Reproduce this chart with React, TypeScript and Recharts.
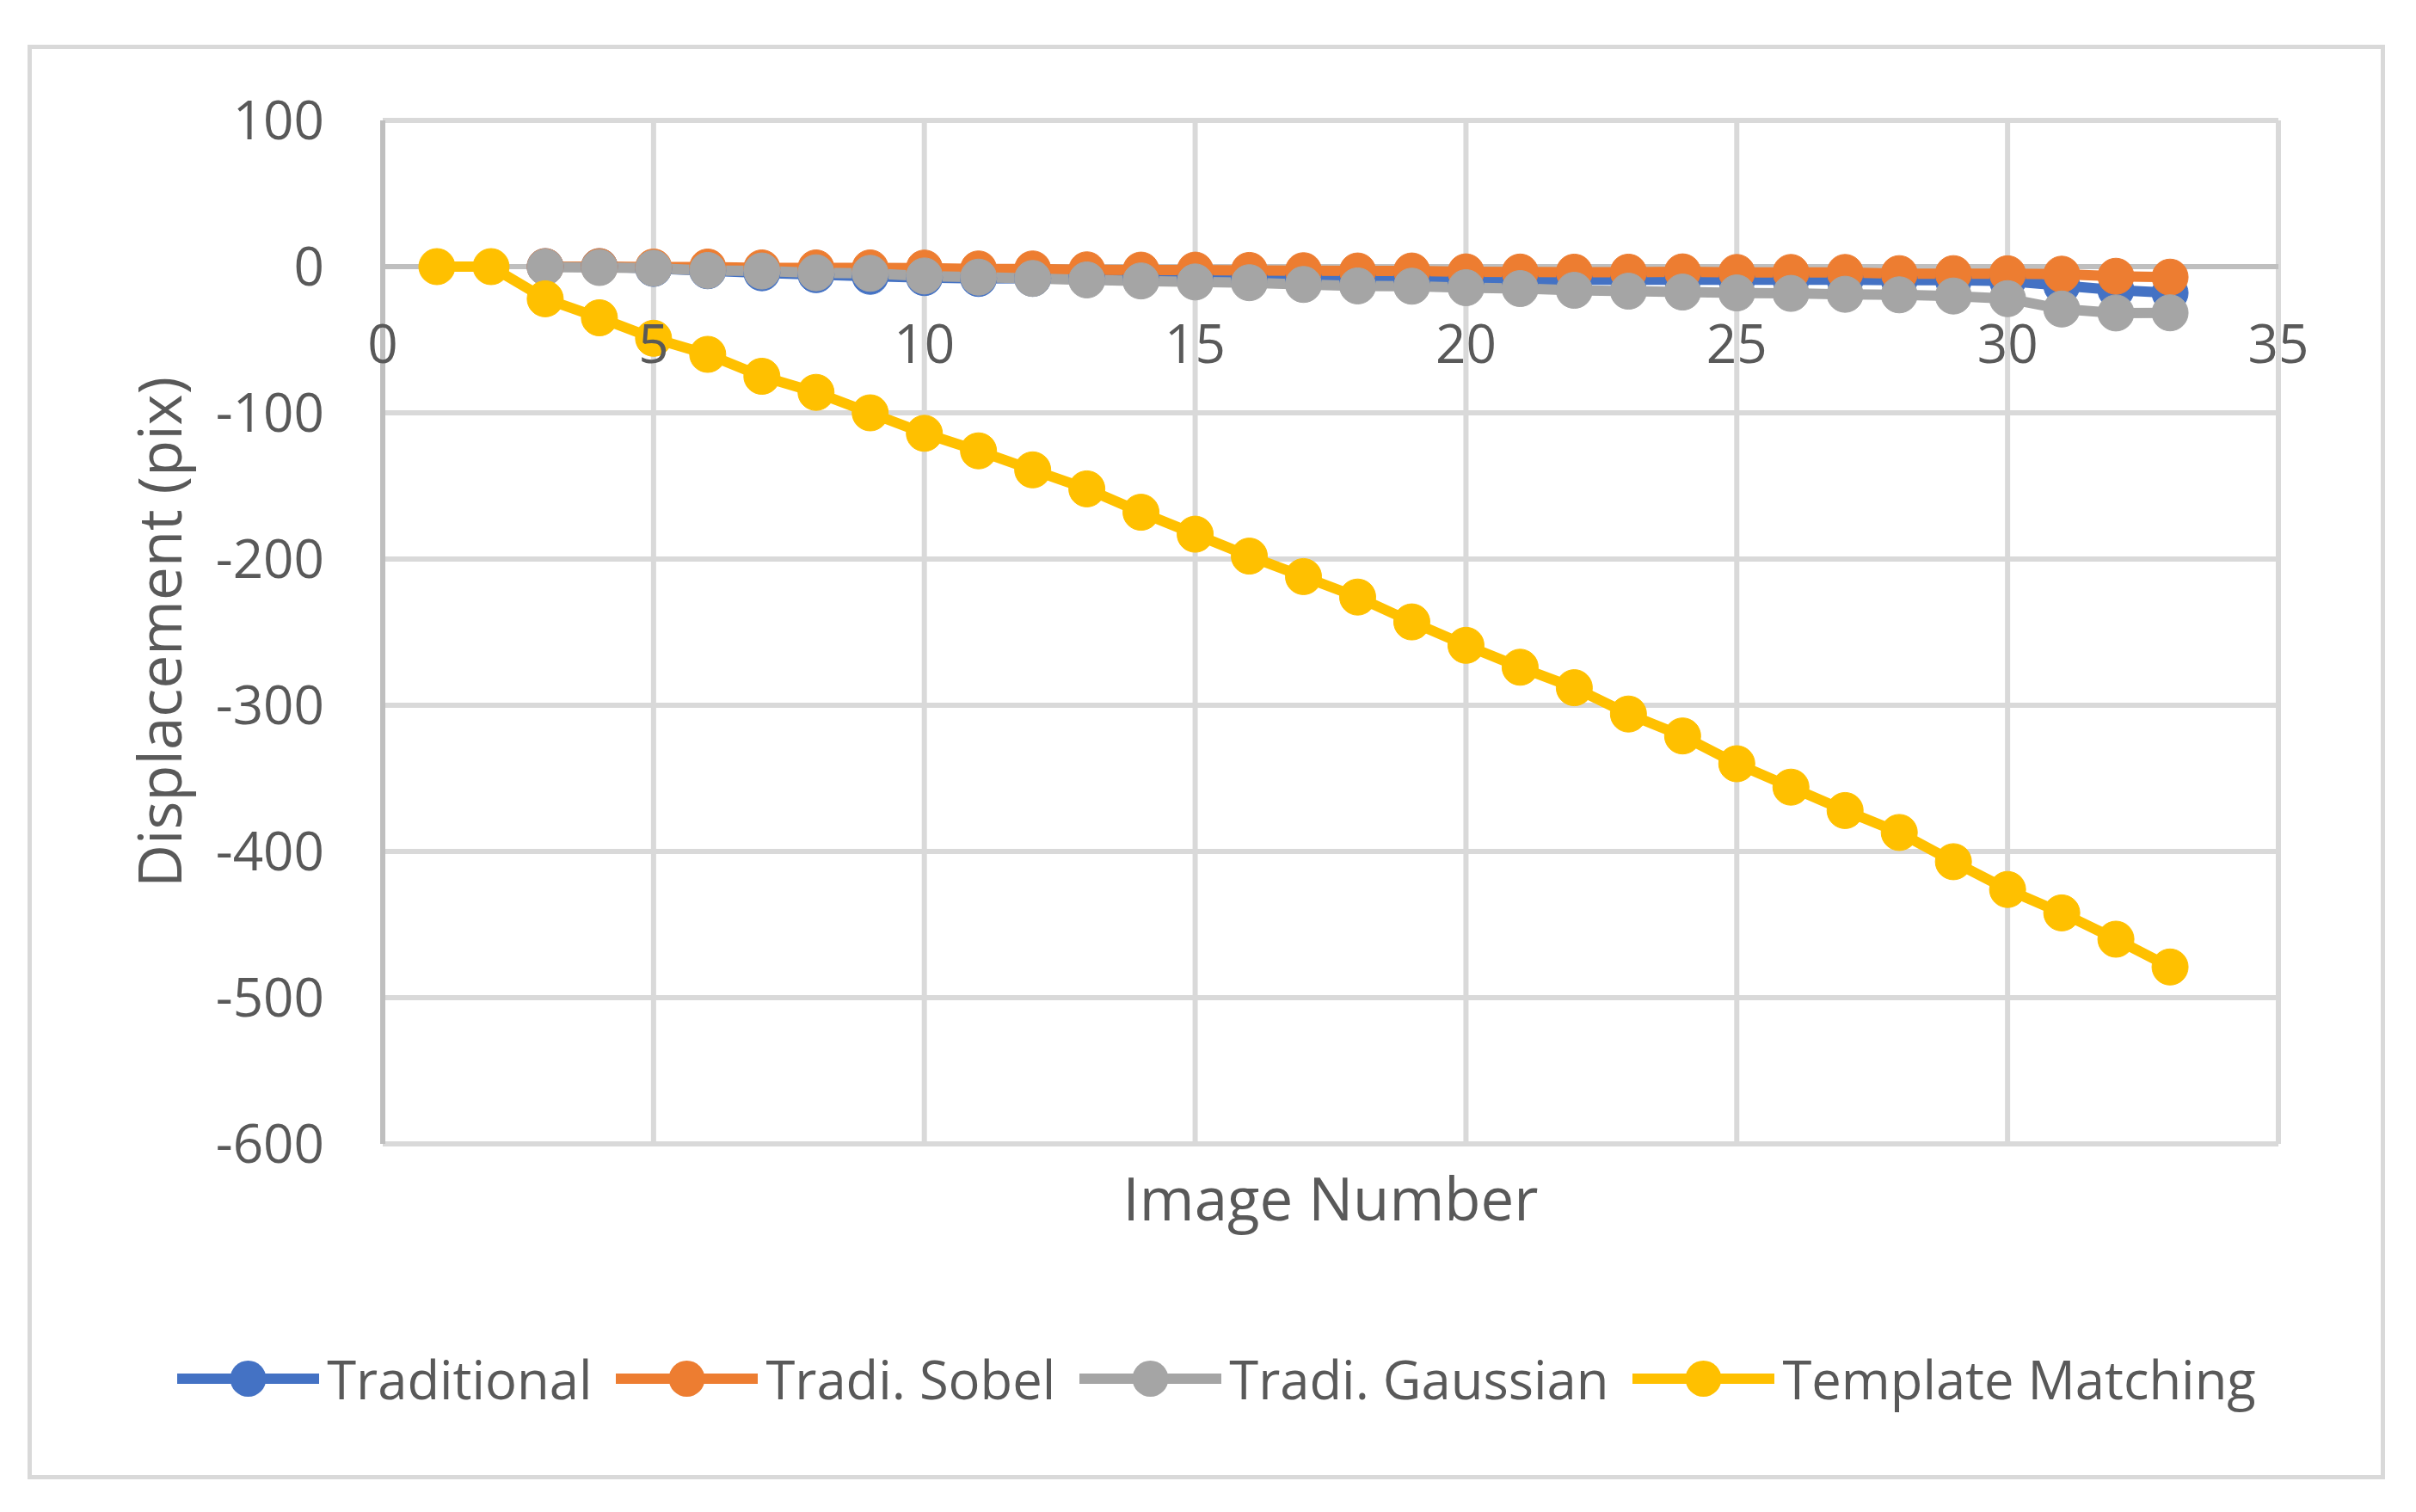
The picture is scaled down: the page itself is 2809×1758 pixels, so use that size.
import React from "react";
import { LineChart, Line, XAxis, YAxis, CartesianGrid, ReferenceLine, Legend } from "recharts";

const imageNumbers = [1, 2, 3, 4, 5, 6, 7, 8, 9, 10, 11, 12, 13, 14, 15, 16, 17, 18, 19, 20, 21, 22, 23, 24, 25, 26, 27, 28, 29, 30, 31, 32, 33];

const traditional = [null, null, 0, 0, -1.2, -2.8, -4.2, -5.5, -6.6, -7.5, -8.1, -8, -8, -8, -8.3, -8.2, -8.1, -8.5, -8.8, -9.5, -9.3, -9, -9, -8.9, -8.9, -9, -9, -9.2, -9.3, -9.8, -13, -16, -18];
const sobel = [null, null, 0, 0, -0.3, -0.3, -0.9, -0.9, -0.9, -1.0, -1.6, -1.6, -2.2, -2.4, -2.4, -2.6, -2.8, -3, -3, -3.6, -3.7, -3.8, -3.8, -3.6, -4, -4, -4, -4.8, -4.8, -4.9, -5.2, -6.6, -7.2];
const gaussian = [null, null, -0.3, -0.6, -1.1, -2.6, -3, -4.2, -4.6, -6.4, -7.2, -8.1, -9.1, -9.8, -10.5, -11, -12.2, -13.2, -13.4, -14.4, -15, -16.2, -16.8, -17.4, -18, -18.3, -18.9, -19.3, -20.1, -21.9, -29, -31.7, -31.6];
const templateMatching = [0, 0, -22, -35, -49, -60, -75, -86, -100, -114, -126, -139, -152, -168, -183, -198, -212, -226, -243, -259, -274, -288, -306, -321, -340, -356, -372, -387, -407, -426, -442, -460, -479];

const xTicks = [0, 5, 10, 15, 20, 25, 30, 35];
const yTicks = [100, 0, -100, -200, -300, -400, -500, -600];

const seriesNames = ["Traditional", "Tradi. Sobel", "Tradi. Gaussian", "Template Matching"];
const seriesKeys = ["traditional", "sobel", "gaussian", "template"];
const seriesColors = ["#4472C4", "#ED7D31", "#A5A5A5", "#FFC000"];

const data = imageNumbers.map((n, i) => ({
  x: n,
  traditional: traditional[i],
  sobel: sobel[i],
  gaussian: gaussian[i],
  template: templateMatching[i],
}));

const W = 2809;
const H = 1758;
const MARGIN = { top: 140, right: 160, bottom: 368, left: 0 };
const X_AXIS_H = 60;
const Y_AXIS_W = 445;
const Y_MIN = -600;
const Y_MAX = 100;
const PLOT_TOP = MARGIN.top;
const PLOT_BOTTOM = H - MARGIN.bottom - X_AXIS_H;
const ZERO_Y = PLOT_TOP + ((Y_MAX - 0) / (Y_MAX - Y_MIN)) * (PLOT_BOTTOM - PLOT_TOP);

const FONT = "'Open Sans', sans-serif";
const TEXT_COLOR = "#595959";

const XTick = (props: any) => {
  const { x, payload } = props;
  return (
    <text x={x} y={ZERO_Y + 112} textAnchor="middle" fill={TEXT_COLOR} fontSize={62} fontFamily={FONT}>
      {payload.value}
    </text>
  );
};

const LegendContent = () => (
  <div style={{ display: "flex", justifyContent: "center", alignItems: "center", fontFamily: FONT, fontSize: 61.5, color: TEXT_COLOR }}>
    {seriesNames.map((name, i) => (
      <div key={name} style={{ display: "flex", alignItems: "center", marginRight: i < seriesNames.length - 1 ? 28 : 0 }}>
        <svg width={165} height={46} style={{ marginRight: 9 }}>
          <line x1={0} y1={23} x2={165} y2={23} stroke={seriesColors[i]} strokeWidth={12} />
          <circle cx={82.5} cy={23} r={21} fill={seriesColors[i]} />
        </svg>
        <span style={{ lineHeight: "80px", whiteSpace: "nowrap" }}>{name}</span>
      </div>
    ))}
  </div>
);

export default function App() {
  return (
    <div style={{ position: "absolute", left: 0, top: 0, width: W, height: H, background: "#fff", fontFamily: FONT }}>
      <div
        style={{
          position: "absolute",
          left: 32,
          top: 52,
          width: 2741,
          height: 1668,
          boxSizing: "border-box",
          border: "5px solid #d9d9d9",
        }}
      />
      <div style={{ position: "absolute", left: 0, top: 0 }}>
        <LineChart width={W} height={H} data={data} margin={MARGIN}>
          <CartesianGrid stroke="#d9d9d9" strokeWidth={6} />
          <XAxis
            dataKey="x"
            type="number"
            domain={[0, 35]}
            ticks={xTicks}
            height={X_AXIS_H}
            axisLine={false}
            tickLine={false}
            tick={<XTick />}
            interval={0}
            label={{
              content: (p: any) => {
                const vb = p.viewBox;
                return (
                  <text x={vb.x + vb.width / 2} y={vb.y + 89} textAnchor="middle" fill={TEXT_COLOR} fontSize={69} fontFamily={FONT}>
                    Image Number
                  </text>
                );
              },
            }}
          />
          <YAxis
            type="number"
            domain={[Y_MIN, Y_MAX]}
            ticks={yTicks}
            width={Y_AXIS_W}
            axisLine={{ stroke: "#bfbfbf", strokeWidth: 6 }}
            tickLine={false}
            tickSize={0}
            tickMargin={68}
            interval={0}
            tick={{ fill: TEXT_COLOR, fontSize: 62, fontFamily: FONT }}
            label={{
              content: (p: any) => {
                const vb = p.viewBox;
                const cy = vb.y + vb.height / 2;
                return (
                  <text x={211} y={cy} transform={`rotate(-90 211 ${cy})`} textAnchor="middle" fill={TEXT_COLOR} fontSize={69} fontFamily={FONT}>
                    Displacement (pix)
                  </text>
                );
              },
            }}
          />
          <ReferenceLine y={0} stroke="#bfbfbf" strokeWidth={6} />
          <Legend
            layout="horizontal"
            verticalAlign="middle"
            align="center"
            content={<LegendContent />}
            wrapperStyle={{ left: 10, width: W, top: 1563, height: 80 }}
          />
          {seriesKeys.map((k, i) => (
            <Line
              key={k}
              type="linear"
              dataKey={k}
              name={seriesNames[i]}
              stroke={seriesColors[i]}
              strokeWidth={12}
              dot={{ r: 21, fill: seriesColors[i], stroke: seriesColors[i], strokeWidth: 1 }}
              activeDot={false}
              isAnimationActive={false}
              connectNulls={false}
            />
          ))}
        </LineChart>
      </div>
    </div>
  );
}
